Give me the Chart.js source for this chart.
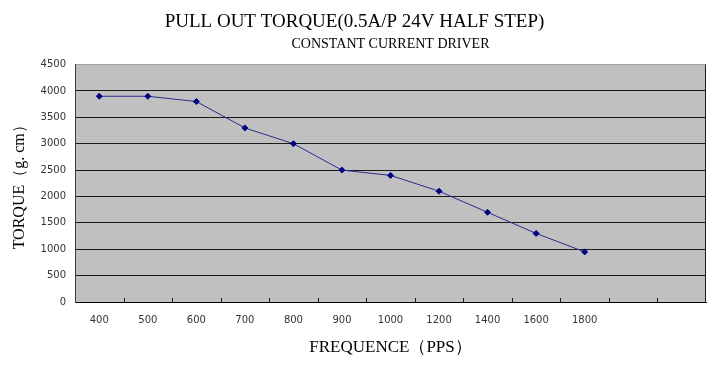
<!DOCTYPE html>
<html>
<head>
<meta charset="utf-8">
<script src="https://cdn.jsdelivr.net/npm/chart.js@4/dist/chart.umd.min.js"></script>
<style>
  html, body { margin: 0; padding: 0; background: #fff; }
  #wrap { width: 711px; height: 371px; }
</style>
</head>
<body>
<div id="wrap"><canvas id="chartTorque"></canvas></div>
<script>
// pull out torque readings, g.cm
var frequencies = ['400', '500', '600', '700', '800', '900', '1000', '1200', '1400', '1600', '1800'];
var torque = [3900, 3900, 3800, 3300, 3000, 2500, 2400, 2100, 1700, 1300, 950];
var emptySlots = 2; // the plot keeps two blank categories on the right
var yTicks = [0, 500, 1000, 1500, 2000, 2500, 3000, 3500, 4000, 4500];

var labels = frequencies.concat(new Array(emptySlots).fill(''));

// gray plot area, right edge and little inward ticks on the x axis
var plotFrame = {
    id: 'plotFrame',
    beforeDraw: function (chart) {
        var a = chart.chartArea, ctx = chart.ctx;
        ctx.save();
        ctx.fillStyle = '#c0c0c0';
        ctx.fillRect(a.left, a.top, a.right - a.left, a.bottom - a.top);
        ctx.restore();
    },
    afterDraw: function (chart) {
        var a = chart.chartArea, ctx = chart.ctx, x = chart.scales.x;
        ctx.save();
        ctx.strokeStyle = '#1a1a1a';
        ctx.lineWidth = 1;
        ctx.beginPath();
        ctx.moveTo(Math.round(a.right) - 0.5, a.top);
        ctx.lineTo(Math.round(a.right) - 0.5, a.bottom);
        for (var i = 1; i < labels.length; i++) {
            var px = Math.round((x.getPixelForValue(i - 1) + x.getPixelForValue(i)) / 2) + 0.5;
            ctx.moveTo(px, a.bottom);
            ctx.lineTo(px, a.bottom - 4);
        }
        ctx.stroke();
        ctx.restore();
    }
};

new Chart(document.getElementById('chartTorque'), {
    type: 'line',
    data: {
        labels: labels,
        datasets: [{
            label: 'Torque',
            data: torque,
            borderColor: '#2b2b94',
            borderWidth: 1,
            backgroundColor: '#000080',
            pointStyle: 'rectRot',
            pointRadius: 3,
            pointBorderColor: '#000080',
            pointBackgroundColor: '#000080',
            tension: 0
        }]
    },
    options: {
        responsive: true,
        maintainAspectRatio: false,
        animation: false,
        layout: { padding: { left: 0, right: 2, top: 0, bottom: 0 } },
        plugins: {
            legend: { display: false },
            tooltip: { enabled: false },
            title: {
                display: true,
                text: 'PULL OUT TORQUE(0.5A/P 24V HALF STEP)',
                color: '#000',
                font: { family: 'Liberation Serif', size: 19, weight: 'normal', lineHeight: 1.2 },
                padding: { top: 11, bottom: 0 }
            },
            subtitle: {
                display: true,
                fullSize: false,
                text: 'CONSTANT CURRENT DRIVER',
                color: '#000',
                font: { family: 'Liberation Serif', size: 14, weight: 'normal', lineHeight: 1.2 },
                padding: { top: 2, bottom: 12 }
            }
        },
        scales: {
            x: {
                type: 'category',
                offset: true,
                grid: { display: false, drawTicks: false },
                border: { display: true, color: '#000', width: 1 },
                ticks: {
                    autoSkip: false,
                    maxRotation: 0,
                    padding: 12,
                    color: '#333',
                    font: { family: 'DejaVu Sans', size: 10 }
                },
                title: {
                    display: true,
                    text: 'FREQUENCE（PPS）',
                    color: '#000',
                    font: { family: 'Liberation Serif', size: 17, lineHeight: 1.2 },
                    padding: { top: 0, bottom: 13 }
                },
                afterFit: function (scale) { scale.height = 69; }
            },
            y: {
                min: 0,
                max: 4500,
                afterBuildTicks: function (scale) {
                    scale.ticks = yTicks.map(function (v) { return { value: v }; });
                },
                grid: {
                    drawTicks: false,
                    lineWidth: 1,
                    color: function (c) { return c.tick && c.tick.value === 4500 ? '#a0a0a0' : '#1a1a1a'; }
                },
                border: { display: true, color: '#404040', width: 1 },
                ticks: {
                    padding: 9,
                    color: '#333',
                    font: { family: 'DejaVu Sans', size: 10 },
                    callback: function (v) { return String(v); }
                },
                title: {
                    display: true,
                    text: 'TORQUE（g. cm）',
                    color: '#000',
                    font: { family: 'Liberation Serif', size: 16, lineHeight: 1.2 },
                    padding: { top: 10, bottom: 0 }
                },
                afterFit: function (scale) { scale.width = 75; }
            }
        }
    },
    plugins: [plotFrame]
});
</script>
</body>
</html>
